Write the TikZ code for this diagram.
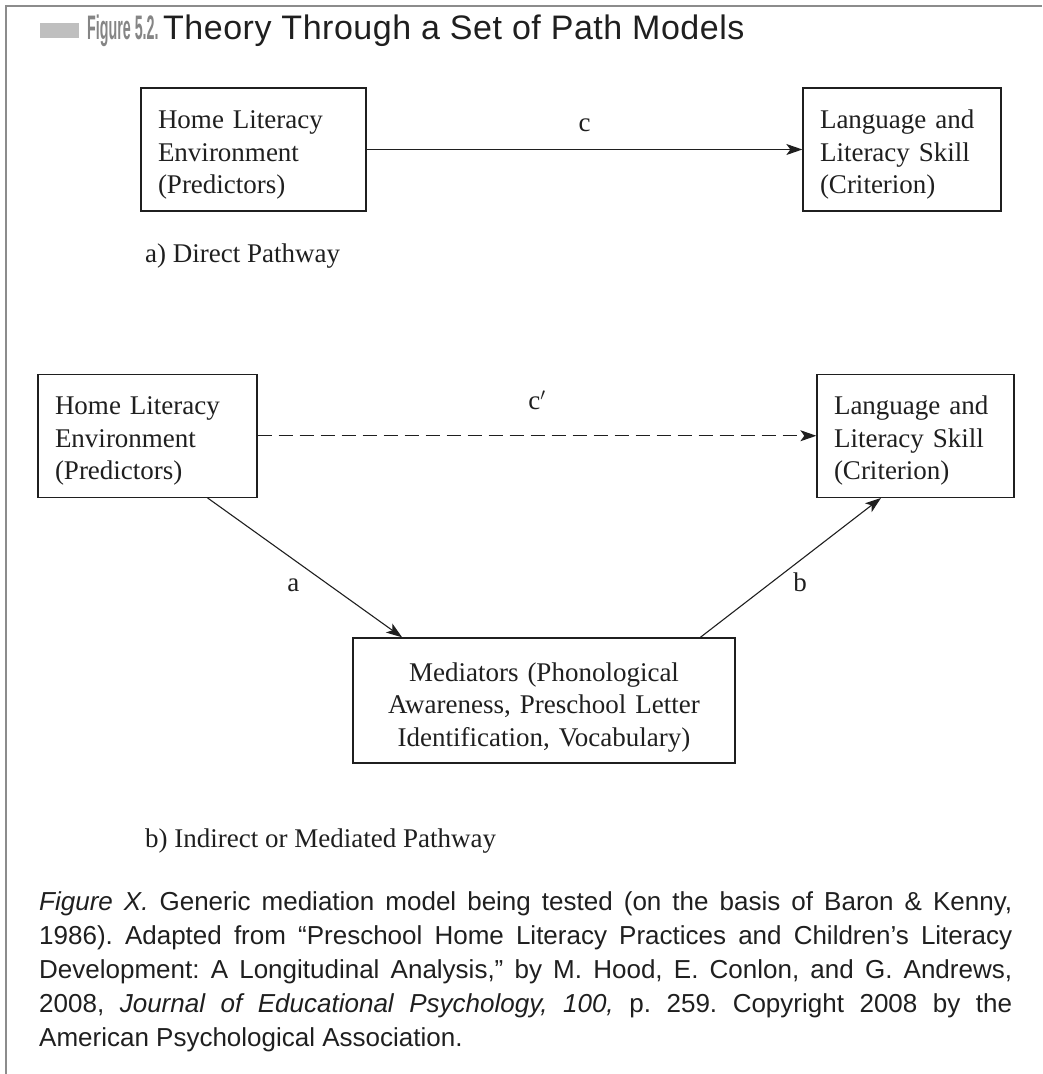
\documentclass[tikz,border=0pt]{standalone}
\usepackage{fontspec}
\setmainfont{Liberation Serif}
\newfontfamily\capfont{Liberation Sans}
\newfontfamily\titlefont{Liberation Sans}[LetterSpace=1.5]
\newfontfamily\figlabfont{Liberation Sans}[FakeStretch=0.42]
\usetikzlibrary{positioning}
\usetikzlibrary{arrows.meta}
\definecolor{framegray}{gray}{0.55}
\definecolor{tabgray}{gray}{0.75}
\definecolor{labgray}{gray}{0.52}
\definecolor{inkgray}{gray}{0.12}

\begin{document}
\begin{tikzpicture}[x=1pt, y=-1pt,
            >={Stealth[length=16pt,width=11pt,inset=4pt]},
            font=\fontsize{27}{32.5}\selectfont,
            box/.style = {draw=inkgray, line width=1.3pt, text=inkgray,
                minimum height=123pt, inner xsep=17pt, align=left,
                execute at begin node=\rule{0pt}{29pt}},
            midbox/.style = {box, align=center, minimum height=125pt,
                execute at begin node=\rule{0pt}{32pt}},
            link/.style = {->, line width=1.1pt, color=inkgray},
            lbl/.style = {text=inkgray, inner sep=0pt},
            panel/.style = {lbl, anchor=base west}]
            \useasboundingbox (0,0) rectangle (1042,1074);
            \draw[framegray, line width=2.5pt] (6,1074) -- (6,6) -- (1042,6);
            \fill[tabgray] (40,23) rectangle (79,38);
            \node[panel, text=labgray,
                font=\figlabfont\bfseries\fontsize{34}{34}\selectfont] (fignum) at (87,39) {Figure 5.2.};
            \node[panel, font=\titlefont\fontsize{34}{34}\selectfont] (title) at (163,39)
                {Theory Through a Set of Path Models};
            \node[box, text width=191pt] (hle1) at (253.5,149.5)
                {Home Literacy\\Environment\\(Predictors)};
            \node[box, text width=164pt] (lls1) at (902,149.5)
                {Language and\\Literacy Skill\\(Criterion)};
            \node[panel] (capa) at (145,262) {a) Direct Pathway};
            \node[box, text width=185pt] (hle2) at (147.5,435.75)
                {Home Literacy\\Environment\\(Predictors)};
            \node[box, text width=163pt] (lls2) at (915.5,435.75)
                {Language and\\Literacy Skill\\(Criterion)};
            \node[midbox, text width=348pt] (med) at (544,700.5)
                {Mediators (Phonological\\Awareness, Preschool Letter\\Identification, Vocabulary)};
            \node[panel] (capb) at (145,847) {b) Indirect or Mediated Pathway};
            \path[link]
                (hle1) edge node[above=17pt, lbl] {c} (lls1)
                (hle2) edge[dash pattern=on 14pt off 7pt] node[above=25pt, lbl] {c$'$} (lls2)
                (hle2.-46) edge node[below left=11pt and 5pt, lbl] {a} (med.156)
                (med.22) edge node[below right=5pt and 2pt, lbl] {b} (lls2.-119);
            \node[panel, text width=973pt, align=justify,
                font=\capfont\fontsize{26}{34}\selectfont] (note) at (39,910)
                {\tolerance=10000\hbadness=10000\frenchspacing
                \textit{Figure X.} Generic mediation model being tested (on the basis of Baron \& Kenny,\linebreak
                1986). Adapted from “Preschool Home Literacy Practices and Children’s Literacy\linebreak
                Development: A Longitudinal Analysis,” by M. Hood, E. Conlon, and G. Andrews,\linebreak
                2008, \textit{Journal of Educational Psychology, 100,} p. 259. Copyright 2008 by the\linebreak
                American Psychological Association.};
        \end{tikzpicture}
\end{document}
